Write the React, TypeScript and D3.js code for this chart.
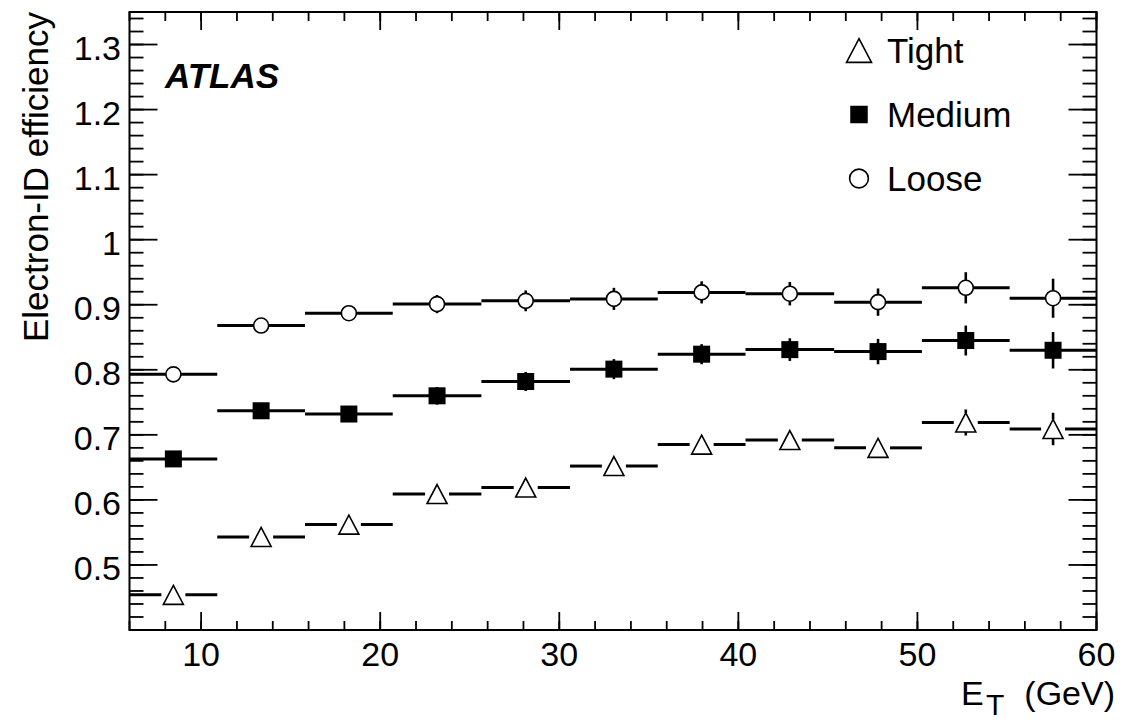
import React from 'react';
import * as d3 from 'd3';

// bin edges in E_T (GeV) and efficiencies per bin
const binEdges = [6, 10.9, 15.8, 20.7, 25.65, 30.6, 35.5, 40.4, 45.35, 50.25, 55.15, 60];

const tight = [0.454, 0.543, 0.562, 0.609, 0.619, 0.652, 0.685, 0.692, 0.68, 0.719, 0.709];
const tightErr = [0.004, 0.005, 0.006, 0.008, 0.009, 0.01, 0.011, 0.012, 0.013, 0.02, 0.025];

const medium = [0.663, 0.737, 0.732, 0.76, 0.782, 0.801, 0.824, 0.831, 0.828, 0.845, 0.83];
const mediumErr = [0.004, 0.005, 0.006, 0.0136, 0.0146, 0.0154, 0.0154, 0.0174, 0.0195, 0.023, 0.028];

const loose = [0.793, 0.868, 0.887, 0.901, 0.906, 0.909, 0.919, 0.917, 0.904, 0.926, 0.91];
const looseErr = [0.004, 0.005, 0.006, 0.014, 0.016, 0.017, 0.017, 0.018, 0.021, 0.024, 0.03];

const xTicks = [10, 20, 30, 40, 50, 60];
const yTicks = [0.5, 0.6, 0.7, 0.8, 0.9, 1, 1.1, 1.2, 1.3];
const yTickLabels = ['0.5', '0.6', '0.7', '0.8', '0.9', '1', '1.1', '1.2', '1.3'];

const legendItems = ['Tight', 'Medium', 'Loose'];

const font = '"Liberation Sans", Arial, Helvetica, sans-serif';

const left = 129.5;
const right = 1096.5;
const top = 12;
const bottom = 630;

const x = d3.scaleLinear().domain([6, 60]).range([left, right]);
const y = d3.scaleLinear().domain([0.4, 1.35]).range([bottom, top]);

type Kind = 'triangle' | 'square' | 'circle';

// half-size of the gap left around each marker type
const gap: Record<Kind, number> = { triangle: 12, square: 7, circle: 7.5 };
const vgap: Record<Kind, number> = { triangle: 9.5, square: 7, circle: 7.5 };

const Marker = ({ kind, cx, cy, s = 1 }: { kind: Kind; cx: number; cy: number; s?: number }) => {
  if (kind === 'circle')
    return <circle cx={cx} cy={cy} r={7.5 * s} fill="#fff" stroke="#000" strokeWidth={1.6} />;
  if (kind === 'square')
    return <rect x={cx - 7 * s} y={cy - 7 * s} width={14 * s} height={14 * s} fill="#000" />;
  const p = d3.path();
  p.moveTo(cx, cy - 9.5 * s);
  p.lineTo(cx + 10 * s, cy + 9.5 * s);
  p.lineTo(cx - 10 * s, cy + 9.5 * s);
  p.closePath();
  return <path d={p.toString()} fill="#fff" stroke="#000" strokeWidth={1.6} />;
};

const Series = ({ values, errs, kind }: { values: number[]; errs: number[]; kind: Kind }) => (
  <g>
    {values.map((v, i) => {
      const x0 = x(binEdges[i]);
      const x1 = x(binEdges[i + 1]);
      const cx = x((binEdges[i] + binEdges[i + 1]) / 2);
      const cy = y(v);
      const yHi = y(v + errs[i]);
      const yLo = y(v - errs[i]);
      const g = gap[kind];
      const vg = vgap[kind];
      return (
        <g key={i} stroke="#000" strokeWidth={3}>
          <line x1={x0} x2={cx - g} y1={cy} y2={cy} />
          <line x1={cx + g} x2={x1} y1={cy} y2={cy} />
          {cy - yHi > vg && <line x1={cx} x2={cx} y1={cy - vg} y2={yHi} strokeWidth={2.6} />}
          {yLo - cy > vg && <line x1={cx} x2={cx} y1={cy + vg} y2={yLo} strokeWidth={2.6} />}
          <Marker kind={kind} cx={cx} cy={cy} />
        </g>
      );
    })}
  </g>
);

const App = () => {
  const xMinor = d3.range(6, 60.01, 2);
  const yMinor = d3.range(0.42, 1.3501, 0.02);
  const kinds: Kind[] = ['triangle', 'square', 'circle'];

  return (
    <svg
      width={1131}
      height={723}
      style={{ position: 'absolute', left: 0, top: 0, background: '#fff' }}
      fontFamily={font}
    >
      <rect width={1131} height={723} fill="#fff" />

      {/* ticks */}
      <g stroke="#000" strokeWidth={1.8}>
        {xMinor.map((t) => (
          <g key={'xm' + t}>
            <line x1={x(t)} x2={x(t)} y1={bottom} y2={bottom - 9} />
            <line x1={x(t)} x2={x(t)} y1={top} y2={top + 9} />
          </g>
        ))}
        {xTicks.map((t) => (
          <g key={'xM' + t}>
            <line x1={x(t)} x2={x(t)} y1={bottom} y2={bottom - 18} />
            <line x1={x(t)} x2={x(t)} y1={top} y2={top + 18} />
          </g>
        ))}
        {yMinor.map((t) => (
          <g key={'ym' + t.toFixed(2)}>
            <line x1={left} x2={left + 14} y1={y(t)} y2={y(t)} />
            <line x1={right} x2={right - 14} y1={y(t)} y2={y(t)} />
          </g>
        ))}
        {yTicks.map((t) => (
          <g key={'yM' + t}>
            <line x1={left} x2={left + 28} y1={y(t)} y2={y(t)} />
            <line x1={right} x2={right - 28} y1={y(t)} y2={y(t)} />
          </g>
        ))}
      </g>

      {/* tick labels */}
      <g fontSize={34} fill="#000">
        {xTicks.map((t) => (
          <text key={'xl' + t} x={x(t)} y={666} textAnchor="middle">
            {t}
          </text>
        ))}
        {yTicks.map((t, i) => (
          <text key={'yl' + t} x={121} y={y(t) + 15} textAnchor="end">
            {yTickLabels[i]}
          </text>
        ))}
      </g>

      {/* axis titles */}
      <text
        transform={`translate(48, ${top}) rotate(-90)`}
        textAnchor="end"
        fontSize={35}
        fill="#000"
      >
        Electron-ID efficiency
      </text>
      <g fill="#000">
        <text x={961} y={705} fontSize={34}>E</text>
        <text x={986} y={715} fontSize={30}>T</text>
        <text x={1115} y={705} fontSize={34} textAnchor="end">(GeV)</text>
      </g>

      {/* data */}
      <Series values={tight} errs={tightErr} kind="triangle" />
      <Series values={medium} errs={mediumErr} kind="square" />
      <Series values={loose} errs={looseErr} kind="circle" />

      {/* frame */}
      <rect x={left} y={top} width={right - left} height={bottom - top} fill="none" stroke="#000" strokeWidth={2} />

      {/* ATLAS label */}
      <text x={165} y={88} fontSize={35} fontWeight="bold" fontStyle="italic" fill="#000">
        ATLAS
      </text>

      {/* legend */}
      {legendItems.map((name, i) => {
        const cy = 50.5 + i * 64;
        return (
          <g key={name}>
            <Marker kind={kinds[i]} cx={859} cy={cy} s={1.25} />
            <text x={887} y={cy + 12.5} fontSize={35} fill="#000">
              {name}
            </text>
          </g>
        );
      })}
    </svg>
  );
};

export default App;
